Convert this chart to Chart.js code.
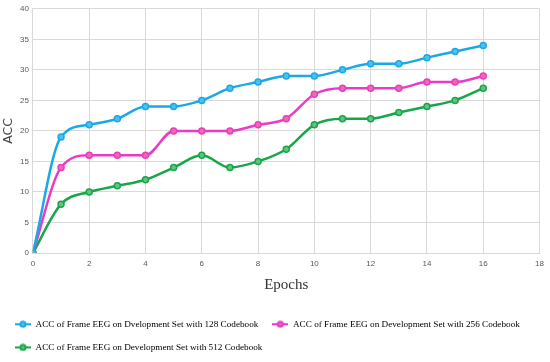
<!DOCTYPE html>
<html>
<head>
<meta charset="utf-8">
<script src="https://cdn.jsdelivr.net/npm/chart.js@4/dist/chart.umd.min.js"></script>
<style>
  body { margin: 0; background: #fff; }
  #wrap { width: 550px; height: 362px; }
</style>
</head>
<body>
<div id="wrap"><canvas id="lineChart"></canvas></div>
<script>
const epochs = [0,1,2,3,4,5,6,7,8,9,10,11,12,13,14,15,16];
const acc128 = [0,19,21,22,24,24,25,27,28,29,29,30,31,31,32,33,34];
const acc256 = [0,14,16,16,16,20,20,20,21,22,26,27,27,27,28,28,29];
const acc512 = [0,8,10,11,12,14,16,14,15,17,21,22,22,23,24,25,27];

const labels128 = 'ACC of Frame EEG on Dvelopment Set with 128 Codebook';
const labels256 = 'ACC of Frame EEG on Development Set with 256 Codebook';
const labels512 = 'ACC of Frame EEG on Development Set with 512 Codebook';

// little line+marker picture for the legend
function legendIcon(color, inner) {
    const c = document.createElement('canvas');
    c.width = 16; c.height = 8;
    const g = c.getContext('2d');
    g.strokeStyle = color;
    g.lineWidth = 2;
    g.beginPath(); g.moveTo(0, 4); g.lineTo(16, 4); g.stroke();
    g.fillStyle = inner;
    g.beginPath(); g.arc(8, 4, 2.6, 0, Math.PI * 2); g.fill(); g.stroke();
    return c;
}

function toPoints(vals) {
    return vals.map((v, i) => ({ x: epochs[i], y: v }));
}

function series(label, vals, color, inner) {
    return {
        label: label,
        data: toPoints(vals),
        borderColor: color,
        backgroundColor: color,
        pointBackgroundColor: inner,
        pointBorderColor: color,
        pointRadius: 3,
        pointBorderWidth: 1.5,
        borderWidth: 2.5,
        tension: 0.35,
        cubicInterpolationMode: 'monotone',
        fill: false,
        icon: legendIcon(color, inner)
    };
}

const datasets = [
    series(labels128, acc128, '#1ba9e6', '#4cc0f0'),
    series(labels256, acc256, '#ea3bc8', '#f06aa8'),
    series(labels512, acc512, '#19a54a', '#5fc47f')
];

const ctx = document.getElementById('lineChart').getContext('2d');
const tickFont = { family: 'Liberation Sans Narrow, Liberation Sans, sans-serif', size: 8 };

new Chart(ctx, {
    type: 'line',
    data: { datasets: datasets },
    options: {
        responsive: true,
        maintainAspectRatio: false,
        animation: false,
        layout: { padding: { top: 0, right: 4, left: 1, bottom: 0 } },
        plugins: {
            tooltip: { enabled: false },
            legend: {
                position: 'bottom',
                align: 'start',
                labels: {
                    color: '#333',
                    font: { family: 'Liberation Serif, serif', size: 9.2 },
                    usePointStyle: true,
                    pointStyleWidth: 16,
                    padding: 14,
                    generateLabels: function (chart) {
                        return chart.data.datasets.map((d, i) => ({
                            text: d.label,
                            pointStyle: d.icon,
                            strokeStyle: d.borderColor,
                            fillStyle: d.borderColor,
                            lineWidth: 0,
                            hidden: false,
                            datasetIndex: i
                        }));
                    }
                }
            }
        },
        scales: {
            x: {
                type: 'linear',
                min: 0,
                max: 18,
                ticks: { stepSize: 2, color: '#595959', font: tickFont, padding: 6 },
                grid: { color: '#d9d9d9', drawTicks: false },
                border: { color: '#d9d9d9' },
                title: {
                    display: true,
                    text: 'Epochs',
                    color: '#333',
                    font: { family: 'Liberation Serif, serif', size: 15 },
                    padding: { top: 1, bottom: 12 }
                }
            },
            y: {
                min: 0,
                max: 40,
                ticks: { stepSize: 5, color: '#595959', font: tickFont, padding: 4 },
                grid: { color: '#d9d9d9', drawTicks: false },
                border: { color: '#d9d9d9' },
                title: {
                    display: true,
                    text: 'ACC',
                    color: '#444',
                    font: { family: 'DejaVu Sans, sans-serif', size: 12.5 },
                    padding: { top: 0, bottom: 0 }
                }
            }
        }
    }
});
</script>
</body>
</html>
